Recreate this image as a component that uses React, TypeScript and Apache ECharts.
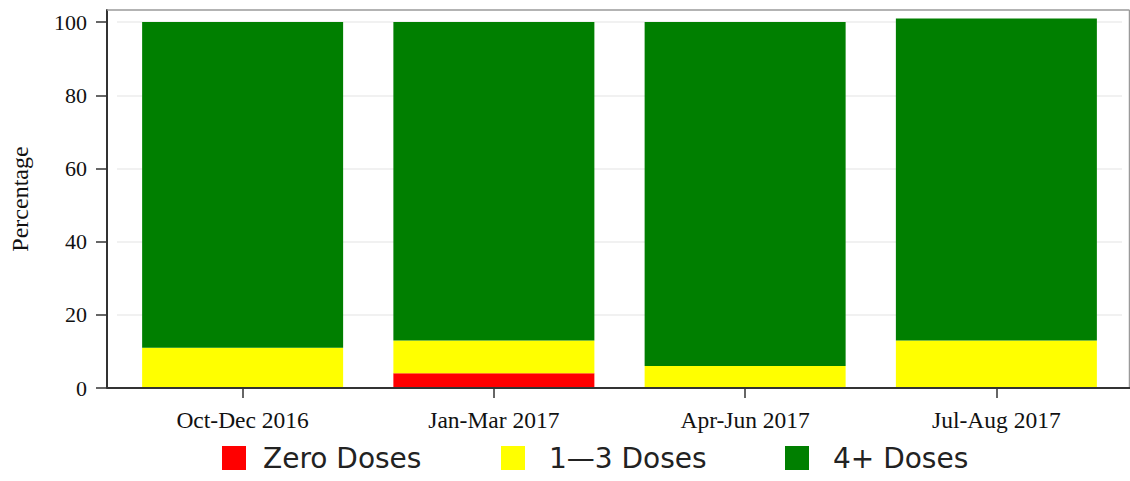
import React, { useEffect, useRef } from "react";
import * as echarts from "echarts";

const categories = ["Oct-Dec 2016", "Jan-Mar 2017", "Apr-Jun 2017", "Jul-Aug 2017"];
const zeroDoses = [0, 4, 0, 0];
const oneToThreeDoses = [11, 9, 6, 13];
const fourPlusDoses = [89, 87, 94, 88];
const yTicks = [0, 20, 40, 60, 80, 100];
const seriesNames = ["Zero Doses", "1\u20143 Doses", "4+ Doses"];
const seriesColors = ["#ff0000", "#ffff00", "#007f00"];

export default function App() {
  const ref = useRef<HTMLDivElement>(null);
  useEffect(() => {
    if (!ref.current) return;
    const chart = echarts.init(ref.current, undefined, { renderer: "svg" });
    const serif = "'Liberation Serif', 'Times New Roman', serif";
    const legendFont = "'DejaVu Sans', sans-serif";
    const legendLefts = [222, 501, 785];
    const legendPads = [12, 19, 19];
    const dataSets = [zeroDoses, oneToThreeDoses, fourPlusDoses];
    chart.setOption({
      animation: false,
      backgroundColor: "#ffffff",
      grid: { left: 117, right: 8, top: 10, bottom: 93, containLabel: false },
      legend: seriesNames.map((n, i) => ({
        data: [n],
        left: legendLefts[i],
        top: 444,
        padding: 0,
        itemWidth: 24,
        itemHeight: 24,
        icon: "rect",
        selectedMode: false,
        textStyle: {
          fontFamily: legendFont,
          fontSize: 28,
          color: "#222222",
          padding: [4, 0, 0, legendPads[i]],
        },
      })),
      xAxis: {
        type: "category",
        data: categories,
        axisLine: { show: false },
        axisTick: { show: true, alignWithLabel: true, length: 10, lineStyle: { color: "#333333", width: 1.5 } },
        axisLabel: { fontFamily: serif, fontSize: 23.5, color: "#111111", margin: 20 },
        splitLine: { show: false },
      },
      yAxis: {
        type: "value",
        min: 0,
        max: 103.3,
        interval: 20,
        offset: 10,
        name: "Percentage",
        nameLocation: "middle",
        nameGap: 75,
        nameTextStyle: { fontFamily: serif, fontSize: 24, color: "#111111" },
        axisLine: { show: true, lineStyle: { color: "#333333", width: 2 } },
        axisTick: { show: true, length: 11, customValues: yTicks, lineStyle: { color: "#333333", width: 1.5 } },
        axisLabel: { fontFamily: serif, fontSize: 22, color: "#111111", margin: 20, customValues: yTicks },
        splitLine: { show: true, lineStyle: { color: "#ececec", width: 1.5 } },
      },
      graphic: [
        { type: "line", shape: { x1: 107, y1: 10, x2: 1129.5, y2: 10 }, style: { stroke: "#9a9a9a", lineWidth: 1.5 }, z: 100 },
        { type: "line", shape: { x1: 1129.5, y1: 10, x2: 1129.5, y2: 388 }, style: { stroke: "#9a9a9a", lineWidth: 1.5 }, z: 100 },
        { type: "line", shape: { x1: 107, y1: 388, x2: 1130, y2: 388 }, style: { stroke: "#333333", lineWidth: 2 }, z: 100 },
      ],
      series: seriesNames.map((n, i) => ({
        name: n,
        type: "bar",
        stack: "total",
        barWidth: 201,
        data: dataSets[i],
        itemStyle: { color: seriesColors[i] },
      })),
    });
    return () => chart.dispose();
  }, []);
  return <div ref={ref} style={{ width: 1130, height: 481, position: "absolute", left: 0, top: 0 }} />;
}
